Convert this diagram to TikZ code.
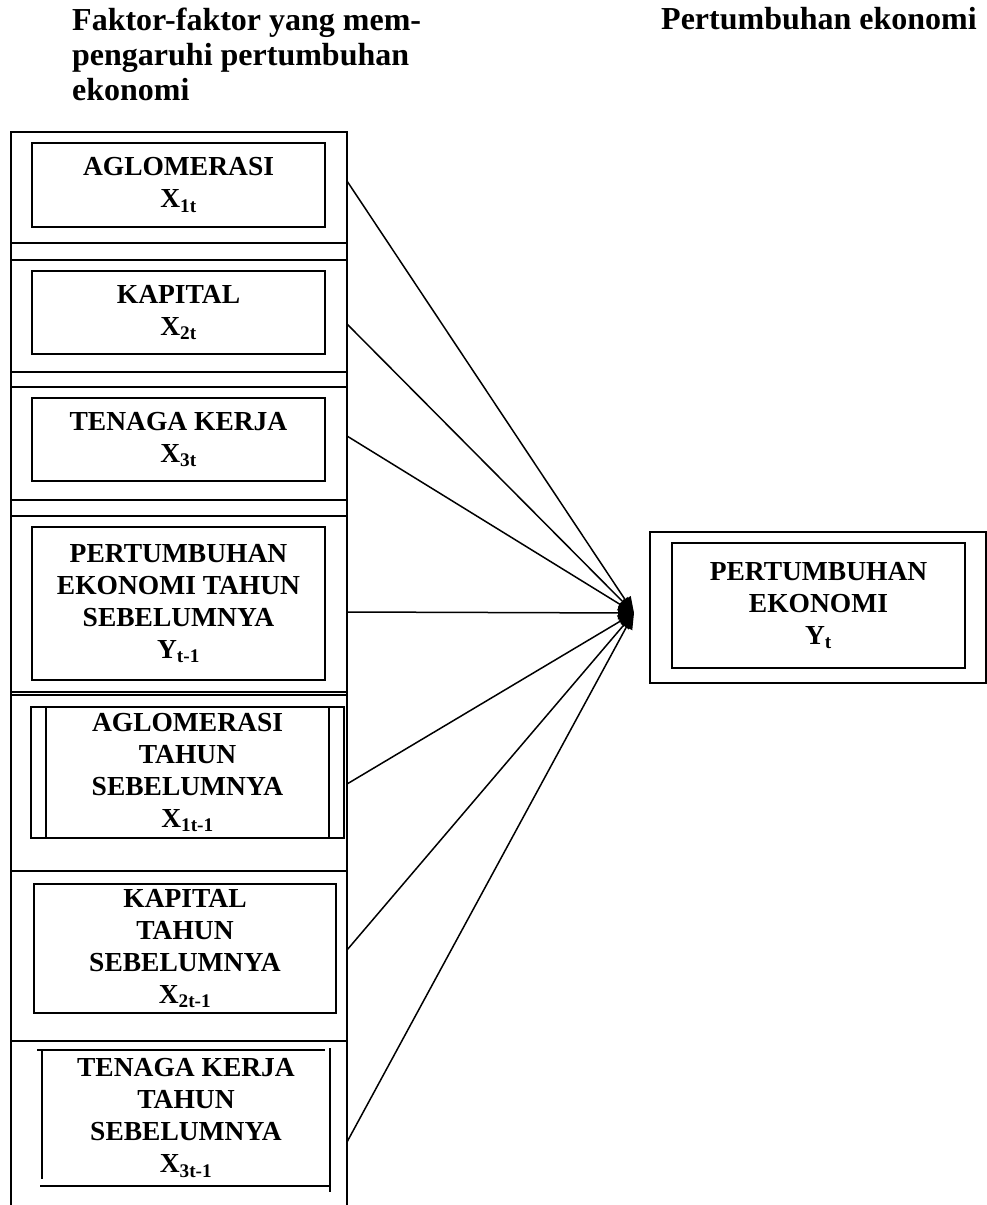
\documentclass[tikz,border=0pt]{standalone}
\usepackage{fontspec}
\setmainfont{Liberation Serif}
\usetikzlibrary{arrows.meta}
\begin{document}
\begin{tikzpicture}[x=1pt,y=-1pt,
  boxfont/.style={font=\fontsize{27.5pt}{32pt}\selectfont\bfseries},
  headfont/.style={font=\fontsize{32pt}{35pt}\selectfont\bfseries},
  frame/.style={draw, line width=1.5pt},
  inbox/.style={boxfont, align=center, inner sep=0pt, draw, line width=1.5pt},
  textonly/.style={boxfont, align=center, inner sep=0pt},
  link/.style={line width=1.5pt, -{Triangle[length=16pt,width=13pt]}},
]
\useasboundingbox (0,0) rectangle (987,1205);

% headings
\node[headfont, align=left, anchor=north west, inner sep=0pt] (h1) at (72,8)
  {Faktor-faktor yang mem-\\pengaruhi pertumbuhan\\ekonomi};
\node[headfont, anchor=base east, inner sep=0pt] (h2) at (977,29) {Pertumbuhan ekonomi};

% outer column
\node[frame, minimum width=336pt, minimum height=111pt, inner sep=0pt] (o1) at (179,187.5) {};
\node[frame, minimum width=336pt, minimum height=112pt, inner sep=0pt] (o2) at (179,316) {};
\node[frame, minimum width=336pt, minimum height=113pt, inner sep=0pt] (o3) at (179,443.5) {};
\node[frame, minimum width=336pt, minimum height=176pt, inner sep=0pt] (o4) at (179,604) {};
\node[frame, minimum width=336pt, minimum height=176pt, inner sep=0pt] (o5) at (179,783) {};
\node[frame, minimum width=336pt, minimum height=170pt, inner sep=0pt] (o6) at (179,956) {};
\node[frame, minimum width=336pt, minimum height=180pt, inner sep=0pt] (o7) at (179,1131) {};
\draw[line width=1.5pt] (11,132) -- (11,1215);
\draw[line width=1.5pt] (347,132) -- (347,1215);

% inner boxes
\node[inbox, minimum width=293pt, minimum height=84pt] (i1) at (178.5,185) {AGLOMERASI\\X\textsubscript{1t}};
\node[inbox, minimum width=293pt, minimum height=83pt] (i2) at (178.5,312.5) {KAPITAL\\X\textsubscript{2t}};
\node[inbox, minimum width=293pt, minimum height=83pt] (i3) at (178.5,439.5) {TENAGA KERJA\\X\textsubscript{3t}};
\node[inbox, minimum width=293pt, minimum height=153pt] (i4) at (178.5,603.5) {PERTUMBUHAN\\EKONOMI TAHUN\\SEBELUMNYA\\Y\textsubscript{t-1}};
\node[inbox, minimum width=313pt, minimum height=131pt] (i5) at (187.5,772.5) {AGLOMERASI\\TAHUN\\SEBELUMNYA\\X\textsubscript{1t-1}};
\draw[line width=1.5pt] (46,707) -- (46,838);
\draw[line width=1.5pt] (329,707) -- (329,838);
\node[inbox, minimum width=302pt, minimum height=129pt] (i6) at (185,948.5) {KAPITAL\\TAHUN\\SEBELUMNYA\\X\textsubscript{2t-1}};
\node[textonly] (i7) at (186,1118) {TENAGA KERJA\\TAHUN\\SEBELUMNYA\\X\textsubscript{3t-1}};
\draw[line width=1.5pt] (37,1050) -- (325,1050);
\draw[line width=1.5pt] (42,1050) -- (42,1179);
\draw[line width=1.5pt] (330,1048) -- (330,1192);
\draw[line width=1.5pt] (40,1186) -- (330,1186);

% right box
\node[frame, minimum width=336pt, minimum height=151pt, inner sep=0pt] (ro) at (818,607.5) {};
\node[inbox, minimum width=293pt, minimum height=125pt] (ri) at (818.5,605.5) {PERTUMBUHAN\\EKONOMI\\Y\textsubscript{t}};

% connectors
\coordinate (hub) at (634,613);
\coordinate (s1) at (347,181);
\coordinate (s2) at (347,324);
\coordinate (s3) at (347,436);
\coordinate (s4) at (347,612);
\coordinate (s5) at (347,784);
\coordinate (s6) at (347,950);
\coordinate (s7) at (347,1142);
\foreach \s in {s1,s2,s3,s4,s5,s6,s7}
  \draw[link] (\s) -- (hub);
\end{tikzpicture}
\end{document}
